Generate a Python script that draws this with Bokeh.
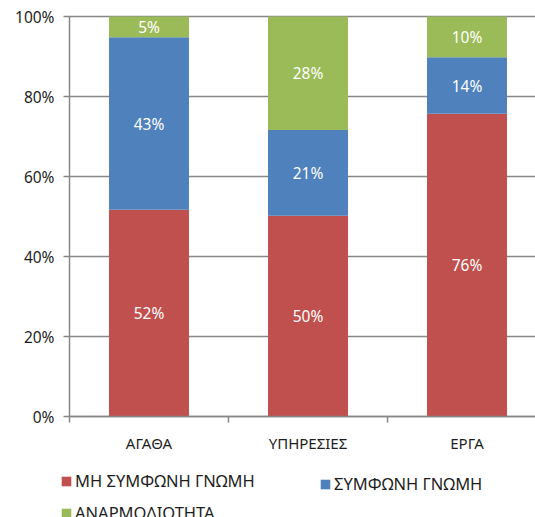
from bokeh.plotting import figure
from bokeh.models import (Range1d, FixedTicker, Legend, LegendItem, ColumnDataSource, Grid)
from bokeh.core.properties import value
from bokeh.embed import file_html
from bokeh.resources import INLINE

categories = ["ΑΓΑΘΑ", "ΥΠΗΡΕΣΙΕΣ", "ΕΡΓΑ"]
series_names = ["ΜΗ ΣΥΜΦΩΝΗ ΓΝΩΜΗ", "ΣΥΜΦΩΝΗ ΓΝΩΜΗ", "ΑΝΑΡΜΟΔΙΟΤΗΤΑ"]
disagree = [51.7, 50.2, 75.7]
agree = [43.1, 21.4, 14.1]
incompetence = [5.2, 28.4, 10.2]
y_ticks = [0, 20, 40, 60, 80, 100]
y_tick_labels = ["0%", "20%", "40%", "60%", "80%", "100%"]

colors = ["#C0504D", "#4F81BD", "#9BBB59"]
FONT = "Noto Sans"
GRID = "#868686"
TXT = "#1e1e1e"

W, H = 535, 517
AXIS_X = 69          # pixel column of the y axis
TOP, ZERO_Y = 16, 416
CAT_PX = 159         # pixels per category slot
n = len(categories)

full = "cross_bounds" in Grid.properties()
left = 0 if full else AXIS_X
top = 0 if full else TOP
x_lo = -(AXIS_X - left) / CAT_PX
x_hi = (W - AXIS_X) / CAT_PX
px_per_unit = (ZERO_Y - TOP) / 100
y_lo = -(H - ZERO_Y) / px_per_unit
y_hi = 100 + (TOP - top) / px_per_unit

p = figure(width=W, height=H, output_backend="svg", toolbar_location=None,
           x_range=Range1d(x_lo, x_hi), y_range=Range1d(y_lo, y_hi),
           min_border_left=left, min_border_right=0, min_border_top=top,
           min_border_bottom=0)
p.outline_line_color = None
p.xgrid.grid_line_color = None
p.ygrid.ticker = FixedTicker(ticks=y_ticks)
p.ygrid.grid_line_color = GRID
p.ygrid.grid_line_width = 1.5
if full:
    p.ygrid.cross_bounds = (0, x_hi)

xs = [i + 0.5 for i in range(n)]
series = [disagree, agree, incompetence]
bottoms = [0.0] * n
renderers = []
for vals, col in zip(series, colors):
    tops = [b + v for b, v in zip(bottoms, vals)]
    src = ColumnDataSource(dict(x=xs, bottom=bottoms, top=tops,
                                mid=[(b + t) / 2 for b, t in zip(bottoms, tops)],
                                lbl=[f"{round(v)}%" for v in vals]))
    renderers.append(p.vbar(x="x", width=0.503, bottom="bottom", top="top", source=src,
                            fill_color=col, line_color=None))
    p.text(x="x", y="mid", text="lbl", source=src, text_color="white",
           text_font=value(FONT), text_font_size="15.5px",
           text_align="center", text_baseline="middle")
    bottoms = tops

# y axis
ya = p.yaxis[0]
if full:
    ya.fixed_location = 0
ya.ticker = FixedTicker(ticks=y_ticks)
ya.bounds = (y_ticks[0], y_ticks[-1])
ya.major_label_overrides = {t: l for t, l in zip(y_ticks, y_tick_labels)}
ya.axis_line_color = GRID
ya.axis_line_width = 1.5
ya.major_tick_line_color = GRID
ya.major_tick_line_width = 1.5
ya.major_tick_out = 6
ya.major_tick_in = 0
ya.minor_tick_line_color = None
ya.major_label_text_font = FONT
ya.major_label_text_font_size = "15.5px"
ya.major_label_text_color = TXT
ya.major_label_standoff = 9

# x axis: ticks at category boundaries, labels at centers
xa = p.xaxis[0]
xa.fixed_location = 0
xa.bounds = (0, n)
xa.ticker = FixedTicker(ticks=xs, minor_ticks=list(range(n + 1)))
xa.major_label_overrides = {x: c for x, c in zip(xs, categories)}
xa.axis_line_color = GRID
xa.axis_line_width = 1.5
xa.major_tick_line_color = None
xa.major_tick_out = 0
xa.major_tick_in = 0
xa.minor_tick_line_color = GRID
xa.minor_tick_line_width = 1.5
xa.minor_tick_out = 6
xa.minor_tick_in = 0
xa.major_label_text_font = FONT
xa.major_label_text_font_size = "15px"
xa.major_label_text_color = TXT
xa.major_label_standoff = 10

common = dict(glyph_width=12, glyph_height=12, label_standoff=3,
              label_height=20, spacing=9, padding=0, margin=0,
              border_line_color=None, background_fill_alpha=0,
              label_text_font=FONT, label_text_font_size="16.5px",
              label_text_color=TXT)
legA = Legend(items=[LegendItem(label=series_names[0], renderers=[renderers[0]]),
                     LegendItem(label=series_names[2], renderers=[renderers[2]])],
              location=(max(60 - left, 0), -7), orientation="vertical", **common)
legB = Legend(items=[LegendItem(label=series_names[1], renderers=[renderers[1]])],
              location=(319 - left, 22), orientation="vertical", **common)
p.add_layout(legA, "center")
p.add_layout(legB, "center")

open("out.html", "w").write(file_html(p, INLINE))
